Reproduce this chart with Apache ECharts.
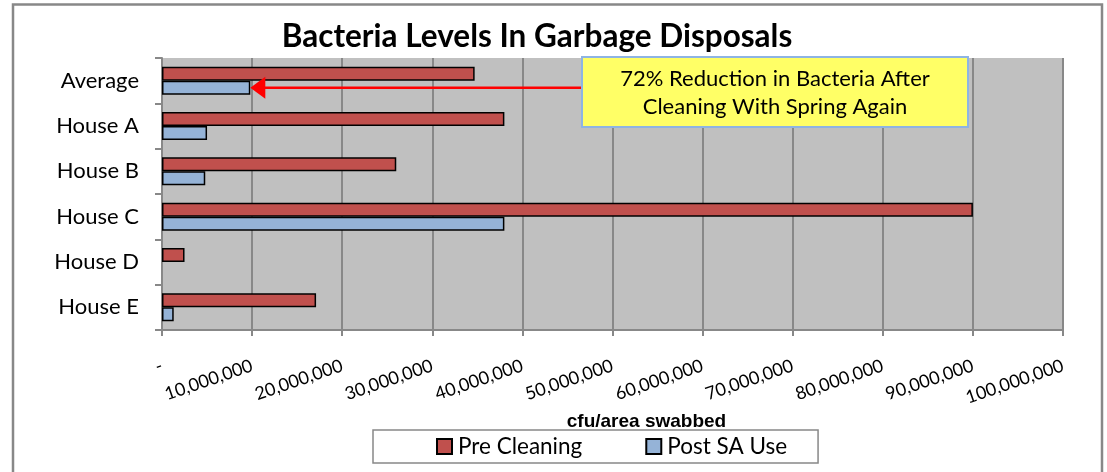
<!DOCTYPE html>
<html>
<head>
<meta charset="utf-8">
<script src="https://cdn.jsdelivr.net/npm/echarts@6/dist/echarts.min.js"></script>
<style>html,body{margin:0;padding:0;background:#fff}#c{width:1107px;height:472px}</style>
</head>
<body>
<div id="c"></div>
<script>
const categories = ['Average', 'House A', 'House B', 'House C', 'House D', 'House E'];
const preCleaning = [34700000, 38000000, 26000000, 90000000, 2500000, 17100000];
const postSAUse = [9800000, 5000000, 4800000, 38000000, 0, 1300000];
const seriesNames = ['Pre Cleaning', 'Post SA Use'];
const titleText = 'Bacteria Levels In Garbage Disposals';
const axisTitle = 'cfu/area swabbed';
const noteLines = ['72% Reduction in Bacteria After', 'Cleaning With Spring Again'];

const chart = echarts.init(document.getElementById('c'), null, {renderer: 'canvas'});
const labelFont = 'Lato, "Open Sans", sans-serif';
const option = {
  animation: false,
  backgroundColor: '#fff',
  title: {
    text: titleText, left: 532, top: 16, textAlign: 'center',
    textStyle: {fontFamily: labelFont, fontWeight: 'bold', fontSize: 31.5, color: '#000'}
  },
  grid: {left: 162, top: 58, right: 44, bottom: 142, show: true, backgroundColor: '#C0C0C0', borderWidth: 0},
  legend: {
    data: seriesNames, left: 373, top: 430,
    padding: [5, 31, 5, 63], itemGap: 63, itemWidth: 15, itemHeight: 15,
    borderColor: '#888', borderWidth: 1.5, backgroundColor: '#fff',
    textStyle: {fontFamily: labelFont, fontSize: 22.5, color: '#000', padding: [0, 0, 0, 1]},
    icon: 'rect'
  },
  xAxis: {
    type: 'value', min: 0, max: 100000000, interval: 10000000,
    name: axisTitle, nameLocation: 'middle', nameGap: 78,
    nameTextStyle: {fontFamily: '"Liberation Sans", Arial, sans-serif', fontWeight: 'bold', fontSize: 19, color: '#000', padding: [0, 0, 0, 68]},
    axisLine: {show: true, lineStyle: {color: '#888', width: 2}},
    axisTick: {show: true, length: 6, lineStyle: {color: '#888', width: 2}},
    splitLine: {show: true, lineStyle: {color: '#888', width: 2}},
    axisLabel: {
      rotate: 19, margin: 35, fontFamily: labelFont, fontSize: 18, color: '#000',
      formatter: v => v === 0 ? '-' : v.toLocaleString('en-US'),
      showMaxLabel: true, showMinLabel: true
    }
  },
  yAxis: {
    type: 'category', data: categories, inverse: true,
    axisLine: {show: true, lineStyle: {color: '#888', width: 2}},
    axisTick: {show: true, length: 7, lineStyle: {color: '#888', width: 2}},
    axisLabel: {margin: 23, fontFamily: labelFont, fontSize: 22, color: '#000'},
    splitLine: {show: false}
  },
  series: [
    {name: seriesNames[0], type: 'bar', data: preCleaning, barWidth: 14, barGap: '0%',
     itemStyle: {color: '#C0504D', borderColor: '#000', borderWidth: 1.5}},
    {name: seriesNames[1], type: 'bar',
     data: postSAUse.map(v => v === 0 ? {value: v, itemStyle: {borderWidth: 0}} : v),
     barWidth: 14, barGap: '0%',
     itemStyle: {color: '#95B3D7', borderColor: '#000', borderWidth: 1.5}}
  ]
};
chart.setOption(option);

// annotation: arrow tip placed at the Average "Post SA Use" value
const tipX = chart.convertToPixel({xAxisIndex: 0}, postSAUse[0]);
const rowY = chart.convertToPixel({yAxisIndex: 0}, categories[0]) + 7;
chart.setOption({
  graphic: [
    {type: 'rect', shape: {x: 13, y: 4.5, width: 1089, height: 480}, silent: true,
     style: {fill: 'none', stroke: '#888', lineWidth: 2.5}, z: 100},
    {type: 'line', shape: {x1: tipX + 12, y1: rowY, x2: 582, y2: rowY},
     style: {stroke: '#FF0000', lineWidth: 2.5}, z: 100},
    {type: 'polygon', shape: {points: [[tipX, rowY], [tipX + 15, rowY - 11], [tipX + 15, rowY + 11]]},
     style: {fill: '#FF0000'}, z: 100},
    {type: 'rect', shape: {x: 582, y: 57, width: 386, height: 70},
     style: {fill: '#FFFF66', stroke: '#8EB4E3', lineWidth: 2}, z: 100},
    {type: 'text', x: 775, y: 79, z: 101,
     style: {text: noteLines[0], font: '22px ' + labelFont, fill: '#000', align: 'center', verticalAlign: 'middle'}},
    {type: 'text', x: 775, y: 107, z: 101,
     style: {text: noteLines[1], font: '22px ' + labelFont, fill: '#000', align: 'center', verticalAlign: 'middle'}}
  ]
});
</script>
</body>
</html>
